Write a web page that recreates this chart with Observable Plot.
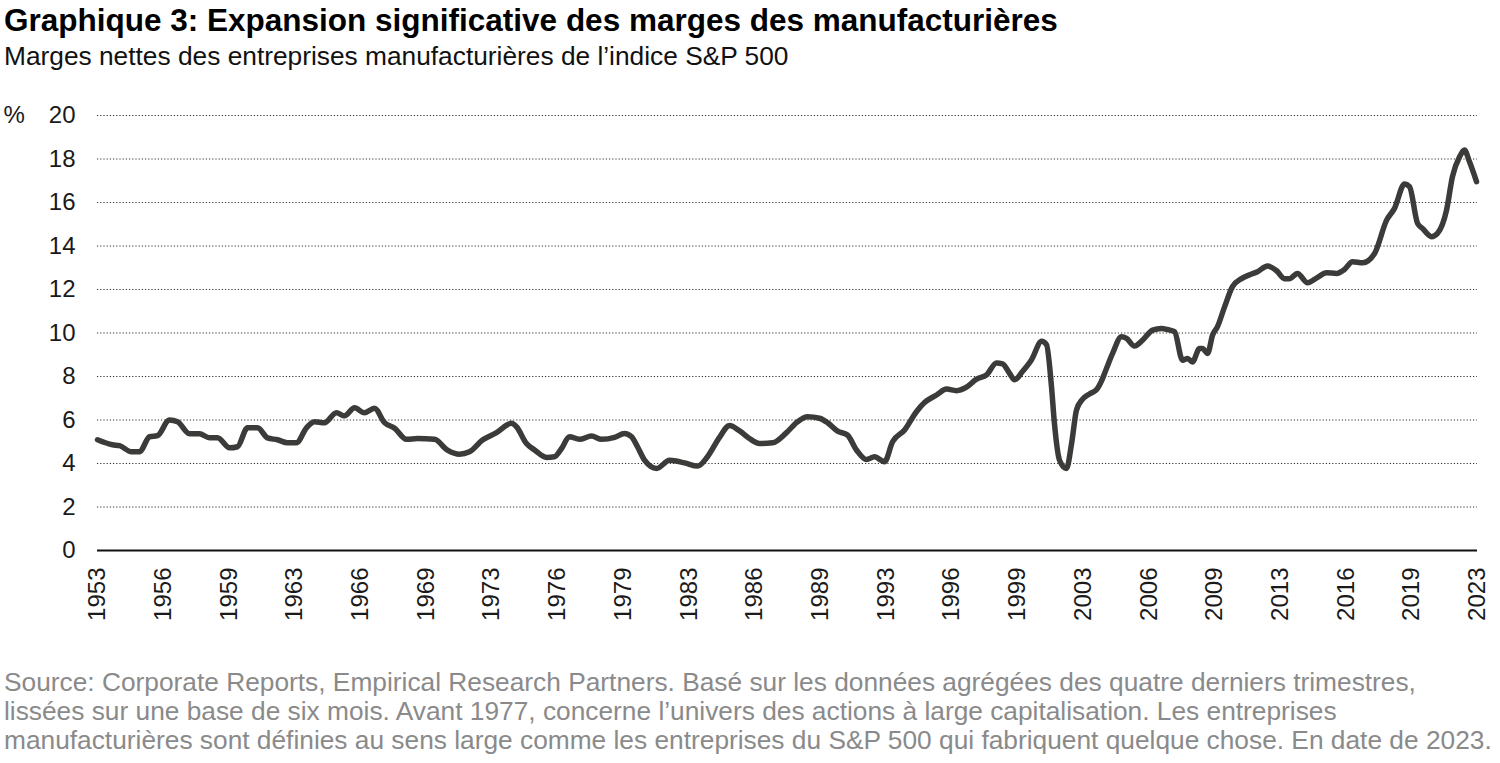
<!DOCTYPE html>
<html>
<head>
<meta charset="utf-8">
<script src="https://cdn.jsdelivr.net/npm/d3@7"></script>
<script src="https://cdn.jsdelivr.net/npm/@observablehq/plot@0.6"></script>
<style>
  html, body { margin: 0; padding: 0; background: #fff; }
  body { width: 1500px; height: 763px; position: relative; overflow: hidden; font-family: "Liberation Sans", Arial, sans-serif; }
  #title { position: absolute; left: 4px; top: 2px; font-size: 31.5px; line-height: 36px; font-weight: bold; color: #000; white-space: nowrap; }
  #subtitle { position: absolute; left: 4px; top: 41px; font-size: 26.3px; line-height: 30px; color: #111; white-space: nowrap; }
  #chart { position: absolute; left: 0; top: 80px; }
  #caption { position: absolute; left: 4px; top: 668px; font-size: 26.3px; line-height: 29px; color: #8a8a8a; white-space: nowrap; }
</style>
</head>
<body>
<div id="title">Graphique 3: Expansion significative des marges des manufacturières</div>
<div id="subtitle">Marges nettes des entreprises manufacturières de l’indice S&amp;P 500</div>
<div id="chart"></div>
<div id="caption">Source: Corporate Reports, Empirical Research Partners. Basé sur les données agrégées des quatre derniers trimestres,<br>lissées sur une base de six mois. Avant 1977, concerne l’univers des actions à large capitalisation. Les entreprises<br>manufacturières sont définies au sens large comme les entreprises du S&amp;P 500 qui fabriquent quelque chose. En date de 2023.</div>
<script>
// Decimal year of each traced point
const years = [
  1953.00, 1953.76, 1954.12, 1954.72, 1955.13, 1955.64, 1956.04, 1956.65, 1957.06, 1957.67,
  1958.17, 1958.68, 1959.09, 1959.70, 1960.10, 1960.61, 1961.12, 1961.62, 1962.13, 1962.64,
  1963.09, 1963.60, 1964.01, 1964.51, 1965.12, 1965.53, 1966.04, 1966.54, 1967.05, 1967.56,
  1968.07, 1968.67, 1969.23, 1970.09, 1970.75, 1971.36, 1971.87, 1972.53, 1973.24, 1974.00,
  1974.25, 1974.76, 1975.17, 1975.78, 1976.18, 1976.54, 1976.94, 1977.45, 1978.06, 1978.57,
  1979.23, 1979.73, 1980.09, 1980.39, 1980.75, 1981.36, 1982.02, 1982.78, 1983.44, 1983.94,
  1984.55, 1985.06, 1985.57, 1986.07, 1986.58, 1987.24, 1987.95, 1988.51, 1989.02, 1989.62,
  1990.03, 1990.54, 1991.04, 1991.50, 1992.01, 1992.41, 1992.92, 1993.33, 1993.94, 1994.54,
  1994.95, 1995.56, 1996.07, 1996.57, 1997.08, 1997.59, 1998.10, 1998.60, 1998.91, 1999.26,
  1999.52, 1999.92, 2000.38, 2000.89, 2001.14, 2001.39, 2001.54, 2001.80, 2002.15, 2002.41,
  2002.66, 2002.96, 2003.32, 2003.68, 2003.93, 2004.18, 2004.49, 2004.94, 2005.20, 2005.60,
  2006.01, 2006.52, 2006.97, 2007.28, 2007.63, 2008.04, 2008.29, 2008.54, 2008.90, 2009.05,
  2009.31, 2009.56, 2009.81, 2010.17, 2010.57, 2011.03, 2011.54, 2011.84, 2012.35, 2012.81,
  2013.21, 2013.46, 2013.87, 2014.38, 2014.89, 2015.34, 2015.85, 2016.25, 2016.66, 2017.17,
  2017.78, 2018.39, 2018.79, 2019.30, 2019.55, 2019.96, 2020.21, 2020.67, 2020.97, 2021.43,
  2021.73, 2022.09, 2022.34, 2022.59, 2022.95
];
// Net margin, %
const margins = [
  5.09, 4.86, 4.82, 4.54, 4.54, 5.23, 5.28, 6.00, 5.92, 5.37,
  5.37, 5.18, 5.18, 4.72, 4.77, 5.64, 5.64, 5.18, 5.09, 4.95,
  4.95, 5.64, 5.92, 5.87, 6.33, 6.19, 6.56, 6.33, 6.54, 5.88,
  5.62, 5.11, 5.15, 5.11, 4.62, 4.43, 4.54, 5.08, 5.42, 5.85,
  5.69, 4.92, 4.62, 4.28, 4.31, 4.69, 5.23, 5.11, 5.26, 5.11,
  5.20, 5.38, 5.23, 4.77, 4.15, 3.77, 4.15, 4.03, 3.88, 4.31,
  5.20, 5.75, 5.50, 5.15, 4.92, 4.95, 5.42, 5.92, 6.15, 6.08,
  5.88, 5.49, 5.31, 4.62, 4.18, 4.31, 4.08, 5.00, 5.54, 6.38,
  6.80, 7.15, 7.42, 7.35, 7.51, 7.88, 8.08, 8.62, 8.58, 8.15,
  7.85, 8.23, 8.77, 9.62, 9.46, 7.54, 5.85, 4.15, 3.77, 4.92,
  6.46, 6.95, 7.20, 7.40, 7.80, 8.37, 9.06, 9.83, 9.75, 9.40,
  9.67, 10.13, 10.21, 10.16, 10.06, 8.75, 8.83, 8.67, 9.29, 9.29,
  9.06, 9.90, 10.29, 11.20, 12.13, 12.50, 12.71, 12.82, 13.08, 12.86,
  12.50, 12.50, 12.74, 12.31, 12.56, 12.77, 12.74, 12.92, 13.28, 13.23,
  13.66, 15.19, 15.73, 16.85, 16.73, 15.04, 14.81, 14.43, 14.58, 15.65,
  17.19, 18.10, 18.41, 17.88, 16.96
];
const yTicks = [0, 2, 4, 6, 8, 10, 12, 14, 16, 18, 20];
const xTicks = d3.range(0, 22).map(k => 1953 + k * 10 / 3);
const xTickLabel = d => String(Math.floor(d + 1e-6));

const data = years.map((t, i) => ({year: t, margin: margins[i]}));

const chart = Plot.plot({
  width: 1500,
  height: 560,
  marginTop: 35,
  marginBottom: 90,
  marginLeft: 97,
  marginRight: 23,
  style: {fontFamily: "'Liberation Sans', Arial, sans-serif", fontSize: "24px", color: "#1a1a1a", background: "transparent", overflow: "visible"},
  x: {domain: [1953, 2023]},
  y: {domain: [0, 20]},
  marks: [
    Plot.ruleY(yTicks.filter(d => d > 0), {stroke: "#333", strokeWidth: 1.1, strokeDasharray: "1.2,2"}),
    Plot.axisY({ticks: yTicks, tickSize: 0, tickPadding: 22, fontSize: 24, label: null}),
    Plot.axisX({ticks: xTicks, tickFormat: xTickLabel, tickSize: 0, tickPadding: 17, tickRotate: -90, fontSize: 24, label: null}),
    Plot.text(["%"], {frameAnchor: "top-left", dx: -94, textAnchor: "start", lineAnchor: "middle", fontSize: 24, fill: "#1a1a1a"}),
    Plot.ruleY([0], {stroke: "#111", strokeWidth: 2}),
    Plot.line(data, {x: "year", y: "margin", stroke: "#3b3b39", strokeWidth: 5.5, curve: "monotone-x", strokeLinejoin: "round", strokeLinecap: "round"})
  ]
});
document.getElementById("chart").appendChild(chart);
</script>
</body>
</html>
